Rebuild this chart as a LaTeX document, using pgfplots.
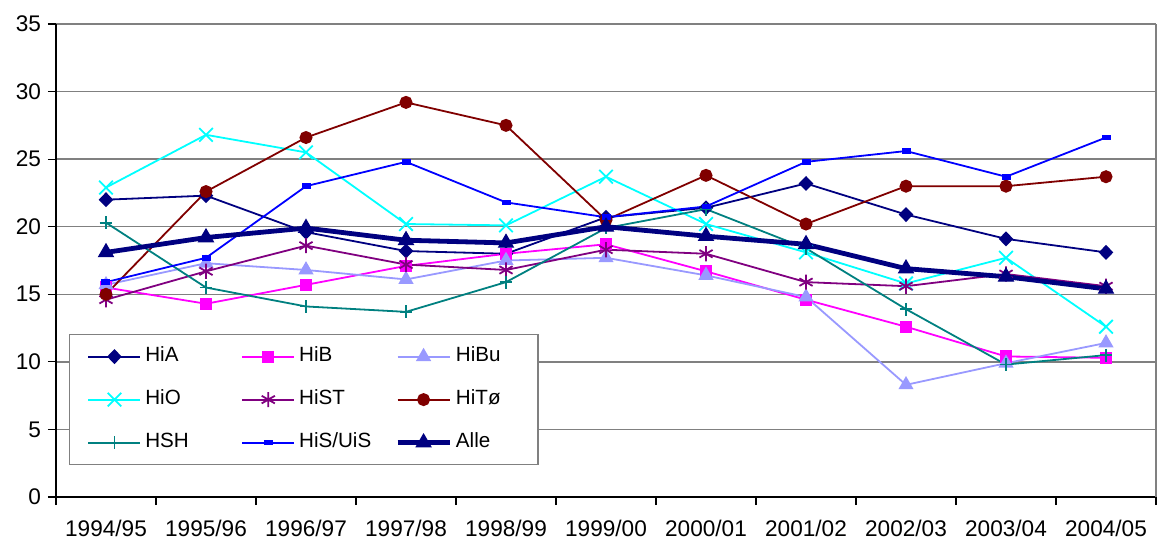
\documentclass[border=0pt]{standalone}
\usepackage{pgfplots}
\pgfplotsset{compat=1.18}
\usepackage{fontspec}
\setmainfont{Liberation Sans}
\definecolor{cHiA}{HTML}{000080}
\definecolor{cHiB}{HTML}{FF00FF}
\definecolor{cHiBu}{HTML}{9999FF}
\definecolor{cHiO}{HTML}{00FFFF}
\definecolor{cHiST}{HTML}{800080}
\definecolor{cHiTo}{HTML}{800000}
\definecolor{cHSH}{HTML}{008080}
\definecolor{cHiS}{HTML}{0000FF}
\definecolor{gridgray}{HTML}{808080}
\newcommand{\la}[1]{\makebox[44pt][l]{#1}}
\newcommand{\lb}[1]{\makebox[30pt][l]{#1}}
\begin{document}
\begin{tikzpicture}
\begin{axis}[
  scale only axis,
  width=550pt, height=236.5pt,
  xmin=-0.5, xmax=10.5, ymin=0, ymax=35,
  axis x line*=bottom, axis y line*=left,
  axis line style={black, line width=0.6pt},
  xtick={0,...,10},
  xticklabels={1994/95,1995/96,1996/97,1997/98,1998/99,1999/00,2000/01,2001/02,2002/03,2003/04,2004/05},
  minor xtick={-0.5,0.5,...,10.5},
  major x tick style={draw=none},
  minor x tick style={black, line width=0.6pt},
  minor tick length=4pt,
  ytick={0,5,...,35},
  major tick length=4pt,
  tick align=outside,
  ytick style={black, line width=0.6pt},
  ymajorgrids,
  major grid style={gridgray, line width=0.7pt},
  extra x ticks={10.5},
  extra x tick labels={},
  extra x tick style={grid=major, major grid style={gridgray, line width=0.8pt}, major tick length=4pt, tick style={black}},
  tick label style={font=\fontsize{11.3}{13}\selectfont},
  xticklabel style={yshift=-4pt},
  /pgf/number format/assume math mode=true,
  legend columns=3,
  legend style={at={(rel axis cs:0.0118,0.3446)}, anchor=north west,
    draw=gridgray, line width=0.6pt, font=\fontsize{10.3}{12}\selectfont,
    inner xsep=9pt, inner ysep=6pt, row sep=11.5pt,
    nodes={text height=7.5pt, text depth=2.5pt, inner ysep=0pt},
    /tikz/every even column/.append style={column sep=2pt}},
  legend cell align=left,
  legend image code/.code={\draw[mark repeat=2,mark phase=2] plot coordinates {(0pt,0pt) (13pt,0pt) (26pt,0pt)};},
]
\addplot[cHiA, line width=0.9pt, mark=diamond*, mark size=3.1pt, mark options={xscale=1.3}] coordinates {
(0,22.0) (1,22.3) (2,19.6) (3,18.2) (4,18.0) (5,20.7) (6,21.4) (7,23.2) (8,20.9) (9,19.1) (10,18.1)};
\addlegendentry{\la{HiA}}
\addplot[cHiB, line width=0.9pt, mark=square*, mark size=2.6pt] coordinates {
(0,15.5) (1,14.3) (2,15.7) (3,17.1) (4,18.0) (5,18.7) (6,16.7) (7,14.6) (8,12.6) (9,10.4) (10,10.3)};
\addlegendentry{\la{HiB}}
\addplot[cHiBu, line width=0.9pt, mark=triangle*, mark size=3.5pt] coordinates {
(0,15.7) (1,17.3) (2,16.8) (3,16.1) (4,17.5) (5,17.7) (6,16.4) (7,14.8) (8,8.3) (9,9.9) (10,11.4)};
\addlegendentry{\lb{HiBu}}
\addplot[cHiO, line width=0.9pt, mark=x, mark size=4.8pt] coordinates {
(0,22.9) (1,26.8) (2,25.5) (3,20.2) (4,20.1) (5,23.7) (6,20.2) (7,18.1) (8,15.8) (9,17.7) (10,12.6)};
\addlegendentry{\la{HiO}}
\addplot[cHiST, line width=0.9pt, mark=asterisk, mark size=3.8pt] coordinates {
(0,14.6) (1,16.7) (2,18.6) (3,17.2) (4,16.8) (5,18.3) (6,18.0) (7,15.9) (8,15.6) (9,16.5) (10,15.6)};
\addlegendentry{\la{HiST}}
\addplot[cHiTo, line width=0.9pt, mark=*, mark size=2.8pt] coordinates {
(0,15.0) (1,22.6) (2,26.6) (3,29.2) (4,27.5) (5,20.5) (6,23.8) (7,20.2) (8,23.0) (9,23.0) (10,23.7)};
\addlegendentry{\lb{HiTø}}
\addplot[cHSH, line width=0.9pt, mark=+, mark size=3.2pt] coordinates {
(0,20.3) (1,15.5) (2,14.1) (3,13.7) (4,15.9) (5,19.9) (6,21.3) (7,18.4) (8,13.9) (9,9.8) (10,10.5)};
\addlegendentry{\la{HSH}}
\addplot[cHiS, line width=0.9pt, mark=square*, mark size=1.2pt, mark options={xscale=1.5, yscale=0.8}] coordinates {
(0,15.9) (1,17.7) (2,23.0) (3,24.8) (4,21.8) (5,20.7) (6,21.5) (7,24.8) (8,25.6) (9,23.7) (10,26.6)};
\addlegendentry{\la{HiS/UiS}}
\addplot[cHiA, line width=2.4pt, mark=triangle*, mark size=4.3pt, mark options={line width=0.5pt}] coordinates {
(0,18.1) (1,19.2) (2,19.9) (3,19.0) (4,18.8) (5,20.0) (6,19.3) (7,18.7) (8,16.9) (9,16.3) (10,15.4)};
\addlegendentry{\lb{Alle}}
\end{axis}
\pgfresetboundingbox
\path[use as bounding box] (-28pt,-23pt) rectangle (550.5pt,248.5pt);
\end{tikzpicture}
\end{document}
